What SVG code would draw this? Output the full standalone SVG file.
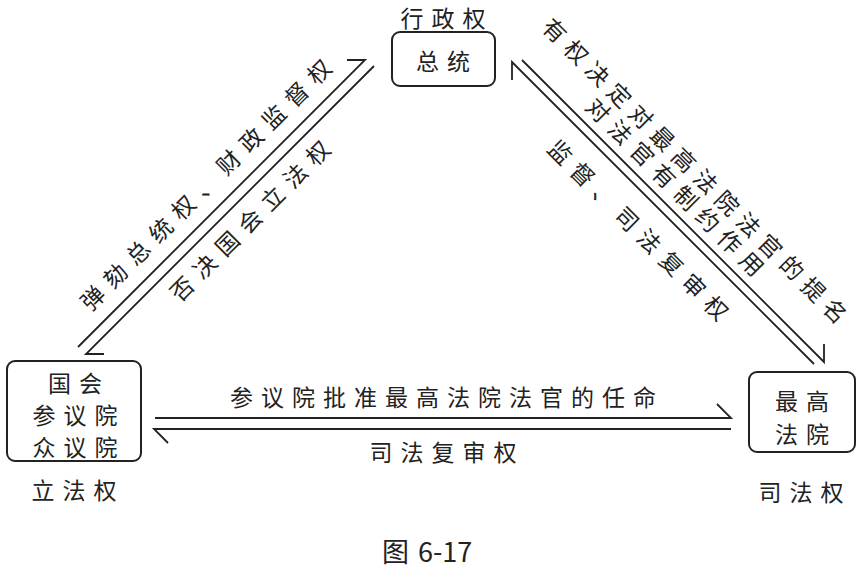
<svg xmlns="http://www.w3.org/2000/svg" width="860" height="570" viewBox="0 0 860 570">
<style>
.box{fill:none;stroke:#222;stroke-width:2}
.t{font-family:"Noto Sans CJK SC","Noto Sans",sans-serif;font-size:23px;fill:#222;letter-spacing:8px;text-anchor:middle;dominant-baseline:central}
.ln{fill:none;stroke:#222;stroke-width:1.8;stroke-linejoin:miter}
.cap{font-family:"Noto Sans CJK SC","Noto Sans",sans-serif;font-size:27px;fill:#222}
</style>
<rect width="860" height="570" fill="#fff"/>
<g id="president">
<text class="t" x="447" y="17">行政权</text>
<rect class="box" x="392" y="32" width="103" height="54" rx="8"/>
<text class="t" x="447" y="60">总统</text>
</g>
<g id="congress">
<rect class="box" x="7" y="361" width="134" height="100" rx="8"/>
<text class="t" x="79" y="382">国会</text>
<text class="t" x="79" y="414">参议院</text>
<text class="t" x="79" y="446">众议院</text>
<text class="t" x="78" y="489">立法权</text>
</g>
<g id="court">
<rect class="box" x="749" y="372" width="106" height="80" rx="8"/>
<text class="t" x="806" y="400">最高</text>
<text class="t" x="806" y="433">法院</text>
<text class="t" x="805" y="491">司法权</text>
</g>
<g id="connectors">
<path class="ln" d="M78,347 L365,60 L347,60"/>
<path class="ln" d="M374,66 L86,354 L104,354"/>
<path class="ln" d="M814,364 L512,62 L512,80"/>
<path class="ln" d="M522,60 L824,362 L824,344"/>
<path class="ln" d="M155,418 L731,418 L717,404"/>
<path class="ln" d="M731,429 L154,429 L168,443"/>
</g>
<g id="labels">
<text class="t" transform="translate(205,184) rotate(-45)" x="4.5" y="0" style="letter-spacing:9px">弹劾总统权、财政监督权</text>
<text class="t" transform="translate(249,220) rotate(-45)" x="4.5" y="0" style="letter-spacing:9px">否决国会立法权</text>
<text class="t" transform="translate(696,170) rotate(45)" x="3.5" y="0" style="letter-spacing:7.5px">有权决定对最高法院法官的提名</text>
<text class="t" transform="translate(676,186) rotate(45)" x="4" y="0">对法官有制约作用</text>
<text class="t" transform="translate(639,229) rotate(45)" x="4.5" y="0" style="letter-spacing:8.5px">监督、司法复审权</text>
<text class="t" x="447" y="396">参议院批准最高法院法官的任命</text>
<text class="t" x="447" y="451">司法复审权</text>
</g>
<text class="cap" x="382" y="562">图<tspan dx="9">6-17</tspan></text>
</svg>
